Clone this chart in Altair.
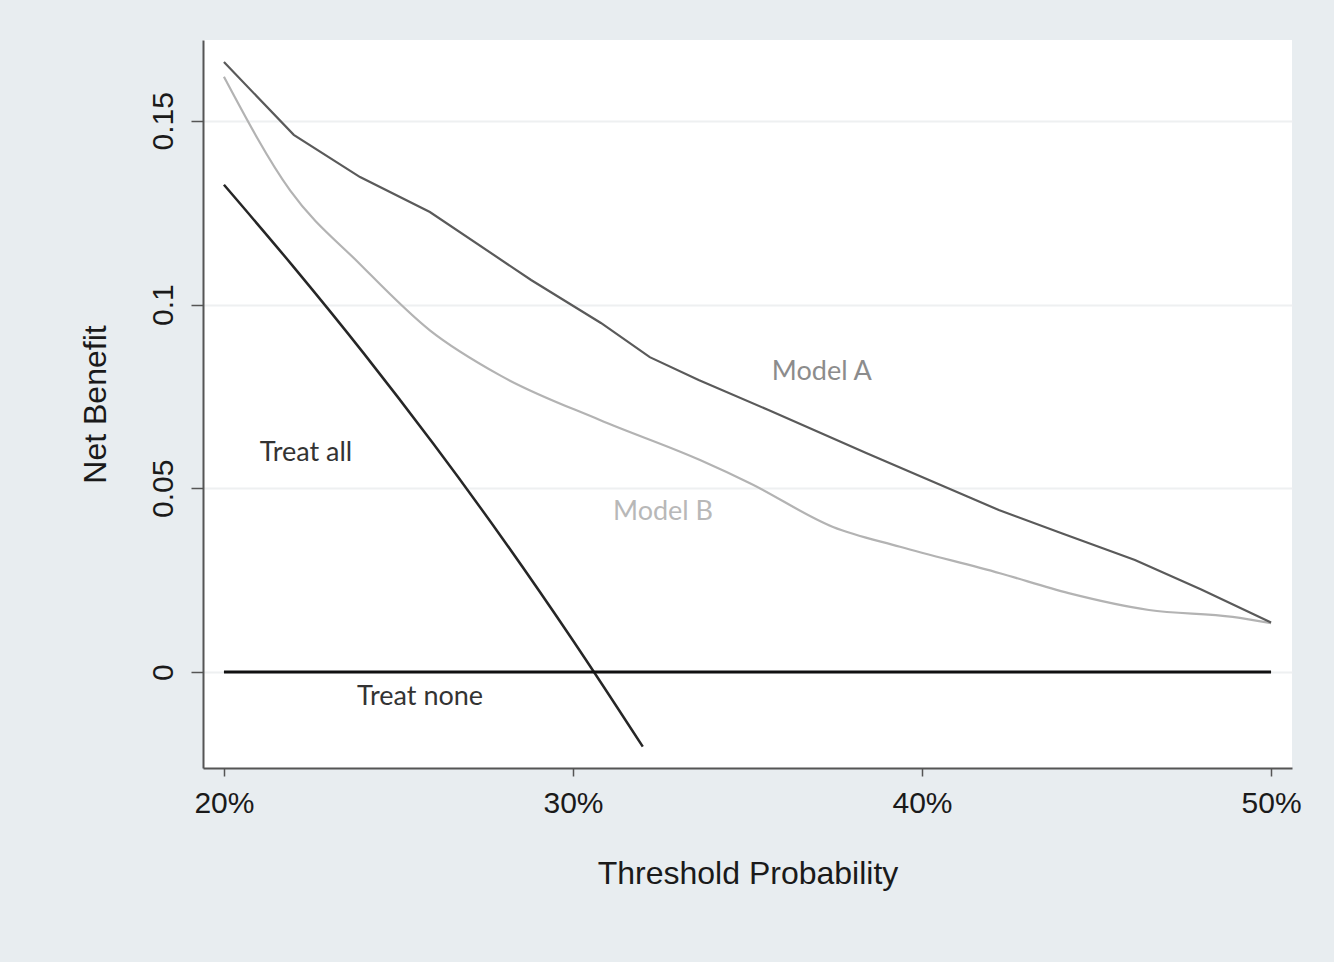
import altair as alt
import pandas as pd

# Threshold probabilities (fraction) and net benefit readings
a_x = [0.20, 0.22, 0.239, 0.259, 0.288, 0.308, 0.322, 0.336, 0.356, 0.384, 0.413, 0.422, 0.44, 0.461, 0.48, 0.50]
a_y = [0.166, 0.1462, 0.1347, 0.1252, 0.1067, 0.0950, 0.0857, 0.0795, 0.0713, 0.0596, 0.0478, 0.0441, 0.0378, 0.0305, 0.0225, 0.0135]

b_x = [0.20, 0.219, 0.239, 0.259, 0.279, 0.3077, 0.3364, 0.3507, 0.3745, 0.3937, 0.4223, 0.442, 0.465, 0.489, 0.50]
b_y = [0.162, 0.131, 0.111, 0.093, 0.0808, 0.0686, 0.0577, 0.0514, 0.0395, 0.0341, 0.0269, 0.0215, 0.0169, 0.0150, 0.0133]

all_x = [0.20, 0.22, 0.24, 0.26, 0.28, 0.30, 0.32]
all_y = [0.1326, 0.1102, 0.0868, 0.0621, 0.0361, 0.0086, -0.0203]

none_x = [0.20, 0.50]
none_y = [0.0, 0.0]

label_text = ["Model A", "Model B", "Treat all", "Treat none"]
label_x = [0.3713, 0.3258, 0.2235, 0.2562]
label_y = [0.0817, 0.0435, 0.0596, -0.0068]
label_col = ["#8c8c8c", "#b8b8b8", "#333333", "#333333"]

x_ticks = [0.2, 0.3, 0.4, 0.5]
y_ticks = [0, 0.05, 0.1, 0.15]

x_scale = alt.Scale(domain=[0.194, 0.506], nice=False, zero=False)
y_scale = alt.Scale(domain=[-0.0261, 0.172], nice=False, zero=False)

x_axis = alt.Axis(values=x_ticks, format=".0%", title="Threshold Probability",
                  grid=False, tickSize=8, labelPadding=12, titlePadding=40)
y_axis = alt.Axis(values=y_ticks, format="~g", title="Net Benefit",
                  grid=True, tickSize=12, labelAngle=-90, labelAlign="center",
                  labelBaseline="alphabetic", labelPadding=19, titlePadding=36)


def series(xs, ys):
    return pd.DataFrame({"x": xs, "y": ys})


def line(df, color, width, interp="monotone"):
    return alt.Chart(df).mark_line(color=color, strokeWidth=width,
                                   interpolate=interp).encode(
        x=alt.X("x:Q", scale=x_scale, axis=x_axis),
        y=alt.Y("y:Q", scale=y_scale, axis=y_axis),
    )


labels = pd.DataFrame({"x": label_x, "y": label_y, "t": label_text, "c": label_col})
text = alt.Chart(labels).mark_text(font="Lato", fontSize=27, align="center",
                                   baseline="middle").encode(
    x=alt.X("x:Q", scale=x_scale, axis=x_axis),
    y=alt.Y("y:Q", scale=y_scale, axis=y_axis),
    text="t:N",
    color=alt.Color("c:N", scale=None),
)

chart = alt.layer(
    line(series(b_x, b_y), "#b3b3b3", 2.2),
    line(series(a_x, a_y), "#5a5a5a", 2.2, "linear"),
    line(series(all_x, all_y), "#262626", 2.5),
    line(series(none_x, none_y), "#111111", 3, "linear"),
    text,
).properties(
    width=1089, height=728,
    autosize=alt.AutoSizeParams(type="none"),
    padding={"left": 203, "top": 40, "right": 42, "bottom": 194},
    background="#e8edf0",
).configure_view(
    stroke=None, fill="white"
).configure_axis(
    labelFont="Liberation Sans", titleFont="Liberation Sans",
    labelFontSize=30, titleFontSize=32, labelColor="#1a1a1a", titleColor="#1a1a1a",
    titleFontWeight="normal",
    domainColor="#555555", domainWidth=2, tickColor="#555555", tickWidth=1.5,
    gridColor="#eef0f1", gridWidth=2,
)

chart.save("out.html", embed_options={"renderer": "svg", "actions": False})
